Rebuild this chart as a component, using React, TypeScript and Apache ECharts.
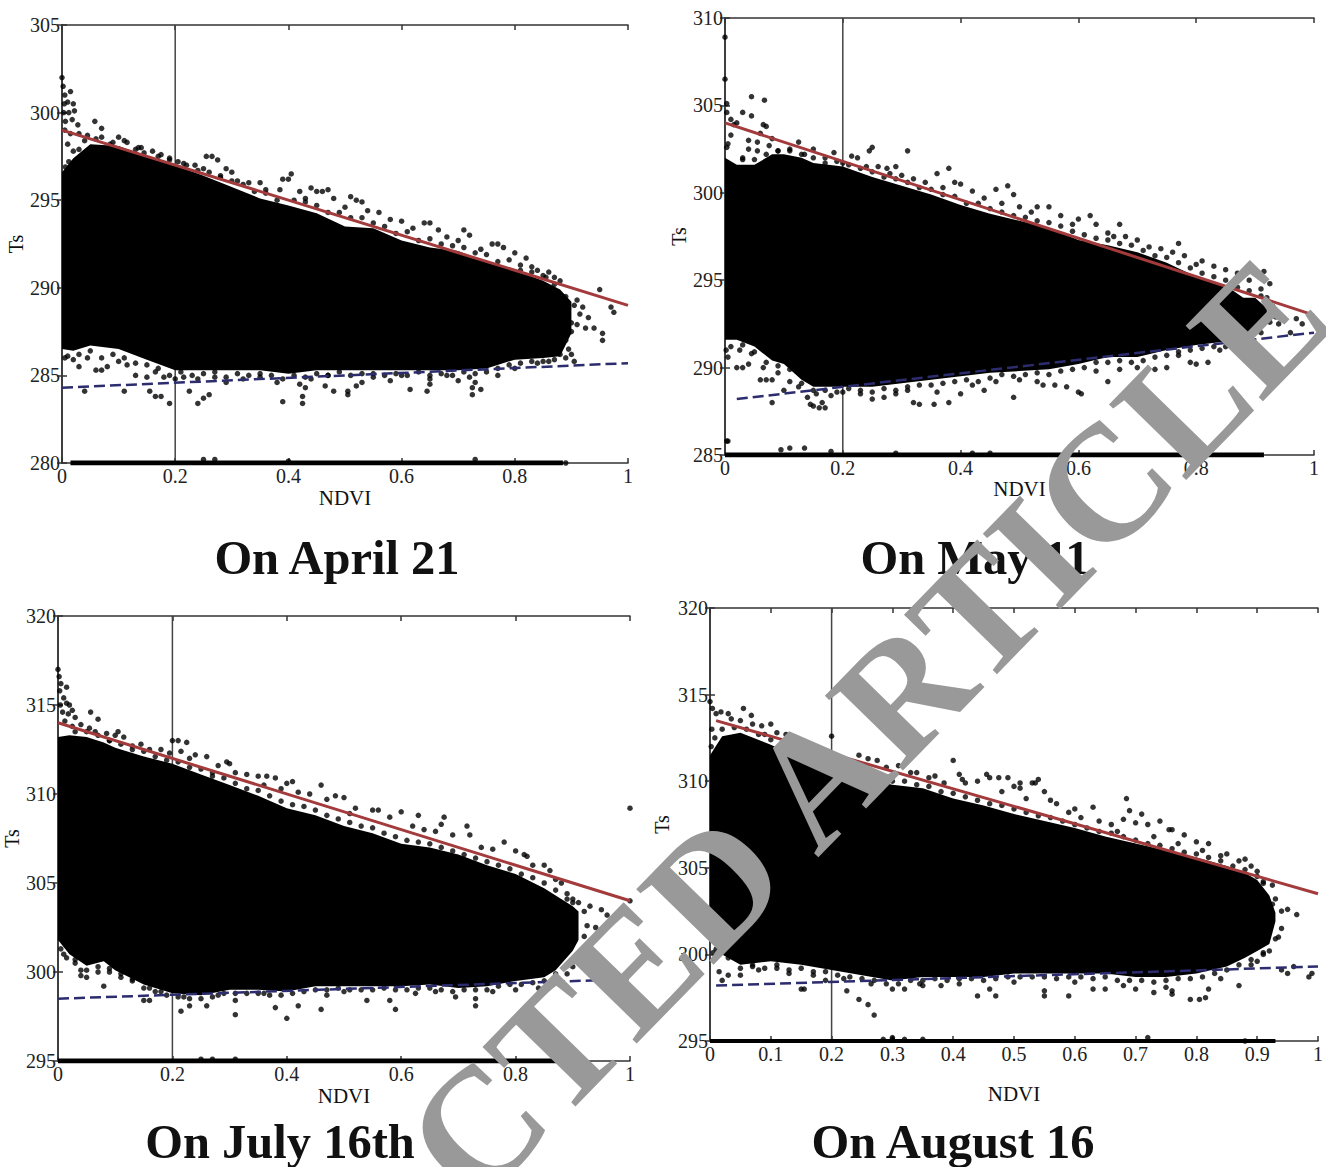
import React, { useEffect, useRef } from "react";
import * as echarts from "echarts";

const SERIF = "'Liberation Serif', serif";

// ---------- shared labels ----------
const titles = ["On April 21", "On May 11", "On July 16th", "On August 16"];
const xAxisName = "NDVI";
const yAxisName = "Ts";
const watermark = "RETRACTED ARTICLE";

// ---------- y ranges ----------
const yRanges = [[280, 305], [285, 310], [295, 320], [295, 320]];
const xSteps = [0.2, 0.2, 0.2, 0.1];
const thresholdNdvi = 0.2;

// ---------- dry and wet edges ----------
const dryEdges = [[[0, 299], [1, 289]], [[0, 304], [1, 293]], [[0, 314], [1, 304]], [[0.01, 313.5], [1, 303.5]]];
const wetEdges = [[[0, 284.3], [1, 285.7]], [[0.02, 288.2], [1, 292]], [[0, 298.5], [1, 299.6]], [[0.01, 298.2], [1, 299.3]]];

// ---------- zero-temperature rows ----------
const floorRows = [
  [[0.015, 280], [0.885, 280]],
  [[0, 285], [0.915, 285]],
  [[0, 295], [0.885, 295]],
  [[0, 295], [0.93, 295]],
];

// ---------- dense body: [ndvi, top, bottom] ----------
const bodyApril = [
  [0, 296.6, 286.5], [0.02, 297.4, 286.4], [0.05, 298.2, 286.7], [0.1, 298.1, 286.5], [0.15, 297.5, 285.9], [0.2, 297, 285.3],
  [0.25, 296.4, 285.3], [0.3, 295.75, 285.3], [0.35, 295.1, 285.3], [0.4, 294.7, 285.1], [0.45, 294.25, 285.3], [0.5, 293.5, 285.3],
  [0.55, 293.4, 285.3], [0.6, 292.7, 285.3], [0.65, 292.3, 285.3], [0.7, 292.1, 285.3], [0.75, 291.45, 285.4], [0.8, 291, 285.9],
  [0.85, 290.4, 286], [0.88, 289.9, 286.1], [0.9, 289.2, 287.4],
];
const bodyMay = [
  [0, 302, 291.6], [0.02, 301.6, 291.6], [0.05, 301.6, 291.2], [0.08, 302.2, 290.4], [0.1, 302.2, 290.2], [0.13, 302, 289.3],
  [0.15, 301.7, 288.9], [0.2, 301.5, 288.9], [0.25, 300.9, 288.9], [0.3, 300.4, 289.1], [0.35, 299.9, 289.3], [0.4, 299.3, 289.5],
  [0.45, 298.8, 289.7], [0.5, 298.4, 289.8], [0.55, 298, 289.9], [0.6, 297.3, 290.2], [0.65, 297, 290.6], [0.7, 296.6, 290.6],
  [0.75, 296, 291], [0.8, 295.2, 291.3], [0.85, 294.7, 291.5], [0.88, 294, 291.9], [0.9, 294, 292.3], [0.92, 293.4, 292.5],
];
const bodyJuly = [
  [0, 313.2, 301.8], [0.02, 313.3, 301], [0.05, 313.2, 300.35], [0.08, 312.9, 300.6], [0.1, 312.6, 300.1], [0.15, 312.1, 299.3],
  [0.2, 311.7, 298.8], [0.25, 311.1, 298.7], [0.3, 310.5, 299], [0.35, 309.9, 299], [0.4, 309.2, 298.9], [0.45, 308.8, 299.2],
  [0.5, 308.2, 299.2], [0.55, 307.8, 299.2], [0.6, 307.2, 299.2], [0.65, 307, 299.3], [0.7, 306.6, 299.1], [0.75, 306, 299.2],
  [0.8, 305.5, 299.5], [0.85, 304.7, 299.7], [0.87, 304.3, 300.1], [0.9, 303.7, 301.2], [0.91, 303.4, 301.8],
];
const bodyAugust = [
  [0, 311.5, 300.9], [0.02, 312.6, 300], [0.05, 312.8, 299.4], [0.1, 312.1, 299.6], [0.15, 311.3, 299.4], [0.2, 310.7, 299.1],
  [0.25, 310.2, 298.8], [0.3, 309.8, 298.5], [0.35, 309.6, 298.7], [0.4, 309, 298.7], [0.45, 308.6, 298.7], [0.5, 308.1, 298.9],
  [0.55, 307.7, 298.9], [0.6, 307.3, 298.9], [0.65, 306.8, 298.9], [0.7, 306.4, 298.7], [0.75, 306, 298.7], [0.8, 305.6, 298.9],
  [0.85, 305.1, 299.3], [0.88, 304.7, 299.8], [0.9, 304.3, 300.2], [0.92, 303.4, 300.6], [0.93, 302.4, 301.9],
];

// ---------- individually visible points ----------
const dotsApril = [
  [0, 302], [0.002, 301.5], [0.005, 301], [0.015, 301.2], [0.004, 300.5], [0.01, 300.6], [0.02, 300.5], [0.003, 300], [0.012, 300], [0.022, 300.1], [0.006, 299.5], [0.018, 299.6], [0.028, 299.3], [0.005, 299], [0.015, 298.8], [0.03, 298.8], [0.01, 298.2], [0.02, 297.8], [0.012, 297.2], [0.006, 296.9],
  [0.058, 299.5], [0.07, 299.1], [0.045, 298.7], [0.06, 298.5], [0.1, 298.6], [0.085, 298.2], [0.115, 298.3], [0.135, 298], [0.16, 297.8], [0.175, 297.6], [0.145, 297.7], [0.19, 297.4], [0.205, 297.2],
  [0.255, 297.5], [0.265, 297.5], [0.275, 297.3], [0.235, 297], [0.215, 297.1], [0.25, 296.8], [0.29, 296.8], [0.3, 296.6], [0.28, 296.3], [0.31, 296.1], [0.33, 296], [0.35, 296], [0.36, 295.6], [0.39, 296.2], [0.4, 296.2], [0.405, 296.5], [0.385, 295.6], [0.42, 295.5], [0.44, 295.7], [0.45, 295.5], [0.46, 295.5], [0.47, 295.6], [0.48, 295.1], [0.43, 295.1], [0.51, 295.2], [0.52, 295], [0.53, 294.9], [0.5, 294.6], [0.54, 294.4], [0.56, 294.3], [0.58, 293.9], [0.6, 293.8], [0.62, 293.4], [0.64, 293.7], [0.65, 293.7], [0.665, 293.3], [0.68, 292.9], [0.71, 293.3], [0.72, 293], [0.7, 292.7], [0.74, 292.2], [0.76, 292.5], [0.77, 292.5], [0.78, 292.3], [0.8, 292], [0.82, 291.7], [0.81, 291.3], [0.83, 291.2], [0.84, 291], [0.86, 290.9], [0.87, 290.6], [0.855, 290.6],
  [0.89, 289.5], [0.895, 288.8], [0.9, 288], [0.905, 289], [0.91, 289.3], [0.915, 288.5], [0.92, 288.9], [0.9, 287.5], [0.91, 287.9], [0.93, 288.3], [0.925, 287.7], [0.94, 287.7], [0.89, 287], [0.895, 286.5], [0.9, 286.2], [0.89, 286], [0.905, 285.8], [0.95, 289.9], [0.97, 288.9], [0.975, 288.6], [0.955, 287.4], [0.955, 287],
  [0.005, 286], [0.02, 285.9], [0.03, 285.5], [0.045, 286], [0.06, 285.3], [0.07, 285.3], [0.08, 285.5], [0.1, 285.8], [0.115, 285.6], [0.13, 285], [0.15, 284.9], [0.165, 285.2], [0.18, 284.9], [0.2, 284.8], [0.215, 284.9], [0.24, 284.8], [0.27, 284.9], [0.29, 284.6], [0.32, 284.8], [0.35, 284.9], [0.38, 284.6], [0.44, 284.8], [0.47, 285], [0.55, 284.9], [0.6, 285], [0.65, 284.8], [0.68, 285], [0.72, 284.9], [0.77, 285], [0.8, 285.4], [0.84, 285.7], [0.86, 285.8],
  [0.04, 284.1], [0.11, 284.1], [0.155, 284.1], [0.165, 283.8], [0.175, 283.8], [0.19, 283.4], [0.225, 284.1], [0.24, 283.4], [0.25, 283.7], [0.26, 283.9], [0.39, 283.5], [0.42, 284.5], [0.425, 283.8], [0.425, 283.4], [0.43, 284.3], [0.465, 284.4], [0.48, 284.1], [0.505, 284.1], [0.505, 283.9], [0.52, 284.4], [0.53, 284.6], [0.58, 284.7], [0.615, 284.2], [0.645, 284.1], [0.65, 284.5], [0.7, 284.7], [0.725, 283.9], [0.725, 284.3], [0.73, 284.6], [0.74, 284.2],
  [0.25, 280.2], [0.27, 280.2], [0.4, 280.1], [0.73, 280.2], [0.89, 280],
];
const fringeApril = [
  [0.03, 297.9], [0.04, 298.4], [0.07, 298.6], [0.09, 298.3], [0.11, 298.4], [0.13, 297.9], [0.14, 298], [0.17, 297.5], [0.19, 297.3], [0.22, 297], [0.24, 296.7], [0.26, 296.6], [0.28, 296.4], [0.3, 296.1], [0.32, 295.9], [0.34, 295.5], [0.36, 295.4], [0.38, 295], [0.41, 295], [0.43, 294.9], [0.45, 294.7], [0.47, 294.3], [0.49, 294.3], [0.51, 294], [0.53, 294], [0.55, 293.7], [0.57, 293.5], [0.59, 293.1], [0.61, 293.2], [0.63, 292.7], [0.65, 292.8], [0.67, 292.5], [0.69, 292.4], [0.71, 292.3], [0.73, 292], [0.75, 291.9], [0.77, 291.5], [0.79, 291.6], [0.81, 291], [0.83, 290.9], [0.85, 290.7], [0.87, 290.2], [0.88, 290.4],
  [0.01, 286.1], [0.03, 286.2], [0.05, 286.4], [0.07, 286], [0.09, 286.2], [0.11, 286], [0.13, 285.7], [0.15, 285.6], [0.17, 285.4], [0.19, 285], [0.21, 285.2], [0.23, 285], [0.25, 285.1], [0.27, 285.2], [0.29, 284.9], [0.31, 285.1], [0.33, 285], [0.35, 285.1], [0.37, 285], [0.39, 284.8], [0.41, 285], [0.43, 284.9], [0.45, 285.1], [0.47, 285], [0.49, 285.2], [0.51, 285], [0.53, 285.1], [0.55, 285.1], [0.57, 285], [0.59, 285.1], [0.61, 285], [0.63, 285.2], [0.65, 285], [0.67, 285.1], [0.69, 285], [0.71, 285.2], [0.73, 285.1], [0.75, 285.2], [0.77, 285.4], [0.79, 285.6], [0.81, 285.7], [0.83, 285.8], [0.85, 285.8], [0.87, 285.9], [0.88, 286.2],
];
const dotsMay = [
  [0, 308.9], [0, 306.5], [0.003, 305.1], [0.003, 304.6], [0.045, 305.5], [0.067, 305.3], [0.03, 304.6], [0.045, 304.4], [0.01, 304.2], [0.015, 303.9], [0.02, 304], [0.065, 303.9], [0.07, 303.8], [0.06, 303.4], [0.005, 302.8], [0.01, 303.3], [0.003, 302.6], [0.04, 303], [0.055, 302.9], [0.08, 303.1], [0.04, 302.5], [0.03, 302], [0.055, 302.4], [0.075, 302.7],
  [0.09, 302.4], [0.11, 302.5], [0.125, 302.9], [0.15, 302.5], [0.135, 302.2], [0.17, 302], [0.185, 302.3], [0.215, 302.1], [0.225, 302], [0.2, 301.7], [0.25, 302.6], [0.245, 302.4], [0.31, 302.4], [0.24, 301.5], [0.26, 301.5], [0.275, 301.4], [0.29, 301.5], [0.28, 301.1], [0.3, 301], [0.32, 300.8], [0.34, 300.6], [0.36, 301.1], [0.38, 301.4], [0.39, 300.6], [0.4, 300.5], [0.37, 300.3], [0.42, 300.1], [0.46, 300.2], [0.48, 300.4], [0.49, 299.9], [0.44, 299.7], [0.47, 299.4], [0.5, 299.2], [0.53, 299.2], [0.55, 299.2], [0.52, 298.9], [0.57, 298.7], [0.6, 298.5], [0.62, 298.7], [0.63, 298.2], [0.59, 298.2], [0.65, 297.7], [0.67, 298.2], [0.66, 297.5], [0.68, 297.5], [0.7, 297.3], [0.72, 296.9], [0.74, 296.8], [0.77, 297.1], [0.76, 296.6], [0.78, 296.4], [0.8, 295.9], [0.81, 296.1], [0.83, 295.8], [0.85, 295.6], [0.87, 295.4], [0.89, 295], [0.87, 295.1],
  [0.915, 295.5], [0.925, 294.8], [0.92, 294], [0.91, 294.5], [0.93, 293.5], [0.935, 292.9], [0.94, 292.5], [0.925, 292.6], [0.97, 292.8], [0.98, 292.5], [0.96, 292],
  [0.002, 291], [0.005, 290.6], [0.02, 290], [0.03, 290], [0.04, 290.2], [0.025, 291], [0.045, 290.8], [0.06, 289.3], [0.07, 289.3], [0.08, 289.3], [0.065, 290], [0.08, 288], [0.1, 288.7], [0.09, 289.7], [0.11, 289.2], [0.125, 288.9], [0.14, 288.3], [0.145, 287.9], [0.15, 287.8], [0.16, 287.7], [0.165, 288], [0.17, 287.7], [0.18, 288.4], [0.155, 288.5], [0.2, 288.6], [0.23, 288.5], [0.25, 288.2], [0.27, 288.3], [0.29, 288.5], [0.31, 288.7], [0.32, 288], [0.33, 287.9], [0.355, 287.9], [0.38, 288], [0.36, 288.6], [0.4, 288.5], [0.42, 289], [0.44, 288.7], [0.46, 289.2], [0.49, 288.3], [0.5, 289.3], [0.53, 289.2], [0.54, 289], [0.56, 289], [0.58, 288.9], [0.6, 288.6], [0.605, 288.5], [0.63, 289.8], [0.65, 289.2], [0.67, 289.9], [0.7, 290], [0.73, 289.9], [0.75, 290], [0.77, 290.7], [0.79, 290.3], [0.82, 290.3], [0.8, 290.2], [0.84, 291], [0.87, 291.2],
  [0.003, 285.8], [0.005, 285.8], [0.095, 285.3], [0.11, 285.4], [0.135, 285.4], [0.18, 285.2], [0.29, 285.1], [0.42, 285.1], [0.45, 285.1],
];
const fringeMay = [
  [0.03, 301.9], [0.05, 301.9], [0.07, 302.2], [0.09, 302.4], [0.11, 302.4], [0.13, 302.2], [0.15, 302], [0.17, 301.7], [0.19, 301.8], [0.21, 301.6], [0.23, 301.4], [0.25, 301.2], [0.27, 300.9], [0.29, 300.8], [0.31, 300.6], [0.33, 300.3], [0.35, 300.2], [0.37, 299.9], [0.39, 299.8], [0.41, 299.4], [0.43, 299.4], [0.45, 299.1], [0.47, 298.9], [0.49, 298.7], [0.51, 298.6], [0.53, 298.4], [0.55, 298.3], [0.57, 298.1], [0.59, 297.8], [0.61, 297.6], [0.63, 297.4], [0.65, 297.3], [0.67, 297.1], [0.69, 297], [0.71, 296.7], [0.73, 296.4], [0.75, 296.3], [0.77, 296], [0.79, 295.7], [0.81, 295.4], [0.83, 295.2], [0.85, 295], [0.87, 294.6], [0.89, 294.4], [0.91, 294.1],
  [0.01, 291.2], [0.03, 291.3], [0.05, 290.9], [0.07, 290.3], [0.09, 290.1], [0.11, 289.9], [0.13, 289.1], [0.15, 288.7], [0.17, 288.7], [0.19, 288.6], [0.21, 288.8], [0.23, 288.7], [0.25, 288.6], [0.27, 288.8], [0.29, 288.7], [0.31, 288.9], [0.33, 289], [0.35, 289], [0.37, 289.1], [0.39, 289.2], [0.41, 289.3], [0.43, 289.2], [0.45, 289.4], [0.47, 289.6], [0.49, 289.5], [0.51, 289.6], [0.53, 289.7], [0.55, 289.6], [0.57, 289.8], [0.59, 289.9], [0.61, 290], [0.63, 290.3], [0.65, 290.3], [0.67, 290.4], [0.69, 290.3], [0.71, 290.4], [0.73, 290.6], [0.75, 290.7], [0.77, 290.9], [0.79, 291], [0.81, 291.1], [0.83, 291.2], [0.85, 291.2], [0.87, 291.5], [0.89, 291.8], [0.91, 292],
];
const dotsJuly = [
  [0, 317], [0.002, 316.6], [0.005, 316.2], [0.015, 316], [0.003, 315.8], [0.01, 315.4], [0.004, 315], [0.015, 315.1], [0.02, 315], [0.008, 314.6], [0.018, 314.5], [0.025, 314.7], [0.03, 314.3], [0.012, 314.1], [0.025, 313.8],
  [0.057, 314.6], [0.07, 314.2], [0.04, 313.9], [0.055, 313.7], [0.065, 313.5], [0.085, 313.4], [0.1, 313.3], [0.105, 313.5], [0.115, 313.2], [0.09, 313], [0.13, 312.7], [0.145, 312.8], [0.16, 312.5], [0.18, 312.5], [0.2, 313], [0.21, 313], [0.225, 312.9], [0.215, 312.4], [0.195, 312.3], [0.24, 312.2], [0.26, 312.1], [0.23, 312], [0.28, 311.6], [0.295, 311.8], [0.3, 311.7], [0.27, 311.2], [0.31, 311.2], [0.33, 311.1], [0.35, 311], [0.365, 311], [0.38, 310.9], [0.36, 310.5], [0.39, 310.3], [0.4, 310.6], [0.41, 310.7], [0.42, 310.1], [0.44, 310], [0.46, 310.5], [0.47, 309.7], [0.485, 309.9], [0.5, 309.8], [0.52, 309.2], [0.51, 308.9], [0.55, 309.1], [0.56, 309.1], [0.58, 308.7], [0.6, 309], [0.62, 308.2], [0.63, 308.8], [0.64, 308], [0.675, 308.7], [0.67, 308.3], [0.66, 307.9], [0.69, 307.7], [0.715, 308.2], [0.72, 307.7], [0.74, 307], [0.76, 306.9], [0.78, 307.3], [0.8, 306.8], [0.815, 306.6], [0.82, 306.5], [0.83, 306], [0.85, 306], [0.86, 305.7], [0.87, 305.2], [0.88, 305], [0.89, 304.4], [0.9, 304.1],
  [0.91, 303.9], [0.92, 303.4], [0.93, 303.7], [0.95, 303.5], [0.96, 303.2], [0.925, 302.6], [0.94, 302.5], [0.92, 302], [0.915, 301], [0.905, 300.6], [0.9, 300.3], [0.92, 300.8], [0.89, 299.9], [0.87, 299.6], [1, 309.2], [1, 304],
  [0.005, 301.3], [0.015, 300.8], [0.03, 300.5], [0.04, 300.1], [0.04, 299.8], [0.05, 299.7], [0.08, 299.2], [0.07, 300], [0.09, 300], [0.11, 299.7], [0.13, 299.5], [0.15, 298.4], [0.16, 298.4], [0.16, 299.1], [0.18, 298.9], [0.22, 298.6], [0.215, 297.8], [0.23, 298.1], [0.26, 298.1], [0.28, 298.7], [0.31, 297.6], [0.31, 298.4], [0.36, 298.8], [0.38, 298], [0.4, 297.4], [0.42, 298.1], [0.46, 297.9], [0.47, 298.7], [0.5, 298.9], [0.54, 298.4], [0.58, 298.4], [0.59, 297.9], [0.625, 298.8], [0.66, 298.9], [0.695, 298.6], [0.73, 298.1], [0.73, 298.5], [0.76, 298.9], [0.8, 299], [0.84, 299.1],
  [0.25, 295.1], [0.27, 295.1], [0.31, 295.1],
];
const fringeJuly = [
  [0.03, 313.5], [0.05, 313.5], [0.07, 313.3], [0.09, 313], [0.11, 312.8], [0.13, 312.5], [0.15, 312.4], [0.17, 312.1], [0.19, 311.9], [0.21, 311.8], [0.23, 311.5], [0.25, 311.4], [0.27, 311], [0.29, 310.9], [0.31, 310.6], [0.33, 310.3], [0.35, 310.2], [0.37, 309.9], [0.39, 309.6], [0.41, 309.4], [0.43, 309.3], [0.45, 309.1], [0.47, 308.8], [0.49, 308.6], [0.51, 308.4], [0.53, 308.2], [0.55, 308.1], [0.57, 307.8], [0.59, 307.6], [0.61, 307.4], [0.63, 307.3], [0.65, 307.2], [0.67, 307], [0.69, 306.8], [0.71, 306.6], [0.73, 306.4], [0.75, 306.2], [0.77, 306], [0.79, 305.8], [0.81, 305.5], [0.83, 305.3], [0.85, 305], [0.87, 304.6], [0.89, 304.1], [0.9, 303.9],
  [0.01, 301], [0.03, 300.7], [0.05, 300.1], [0.07, 300.3], [0.09, 300.2], [0.11, 299.9], [0.13, 299.6], [0.15, 299.1], [0.17, 298.9], [0.19, 298.7], [0.21, 298.6], [0.23, 298.5], [0.25, 298.5], [0.27, 298.6], [0.29, 298.8], [0.31, 298.8], [0.33, 298.8], [0.35, 298.8], [0.37, 298.7], [0.39, 298.7], [0.41, 298.8], [0.43, 298.9], [0.45, 299], [0.47, 299], [0.49, 299.1], [0.51, 299], [0.53, 299], [0.55, 299], [0.57, 299.1], [0.59, 299], [0.61, 299], [0.63, 299.1], [0.65, 299.1], [0.67, 299], [0.69, 298.9], [0.71, 299], [0.73, 299], [0.75, 299], [0.77, 299.2], [0.79, 299.3], [0.81, 299.3], [0.83, 299.4], [0.85, 299.5], [0.87, 299.9], [0.89, 300.4],
];
const dotsAugust = [
  [0, 314.6], [0.004, 314.2], [0.01, 313.9], [0.018, 314], [0.03, 313.9], [0.035, 313.6], [0.055, 314.2], [0.068, 313.8], [0.05, 313.5], [0.07, 313.3], [0.085, 313.2], [0.1, 313.3], [0.11, 312.8], [0.09, 312.7], [0.125, 312.7], [0.003, 313], [0.008, 312.5], [0.002, 312], [0.14, 312.2], [0.15, 311.9], [0.17, 311.6], [0.2, 312.6], [0.19, 311.2], [0.21, 311.1],
  [0.23, 311], [0.245, 311.5], [0.26, 311.3], [0.275, 311.2], [0.25, 310.8], [0.29, 310.8], [0.31, 310.9], [0.33, 310.5], [0.34, 310.5], [0.36, 310.2], [0.37, 310.3], [0.385, 309.9], [0.4, 311.2], [0.41, 310.4], [0.415, 310.1], [0.42, 309.9], [0.44, 310], [0.455, 310.4], [0.46, 310.2], [0.475, 310.2], [0.49, 310.2], [0.48, 309.4], [0.5, 309.7], [0.51, 309.6], [0.51, 309.9], [0.53, 309.9], [0.54, 310.1], [0.535, 309.9], [0.55, 309.4], [0.52, 309], [0.56, 308.9], [0.57, 308.7], [0.59, 308.2], [0.6, 308.4], [0.63, 308.5], [0.61, 307.9], [0.64, 307.7], [0.66, 307.5], [0.68, 307.8], [0.685, 309], [0.69, 308.3], [0.67, 307.1], [0.7, 307.6], [0.71, 308.1], [0.72, 307.5], [0.74, 307.7], [0.76, 307.2], [0.78, 306.9], [0.755, 307.2], [0.73, 306.8], [0.77, 306.4], [0.8, 306.5], [0.82, 306.4], [0.81, 306], [0.84, 305.7], [0.85, 305.8], [0.87, 305.4], [0.88, 305.5], [0.89, 305.1], [0.9, 304.8], [0.91, 304.1],
  [0.925, 304], [0.93, 303.2], [0.94, 302.5], [0.925, 302.9], [0.95, 302.6], [0.965, 302.3], [0.94, 301.5], [0.935, 301], [0.93, 300.9], [0.92, 300.2], [0.91, 300], [0.9, 299.6], [0.89, 299.4],
  [0.005, 300.1], [0.015, 299], [0.02, 298.5], [0.03, 298.8], [0.05, 298.8], [0.07, 299.3], [0.08, 299.1], [0.11, 299.2], [0.13, 298.9], [0.15, 298], [0.155, 298], [0.17, 298.8], [0.19, 298.5], [0.22, 298.6], [0.225, 297.9], [0.245, 297.4], [0.26, 297.1], [0.27, 296.5], [0.265, 298.3], [0.3, 298], [0.32, 298], [0.345, 298.3], [0.35, 298.2], [0.38, 298.2], [0.41, 298.3], [0.44, 297.6], [0.46, 298], [0.47, 297.6], [0.5, 298.4], [0.55, 297.6], [0.55, 297.9], [0.59, 297.6], [0.6, 298.4], [0.63, 298], [0.65, 298], [0.68, 298.2], [0.7, 298], [0.73, 297.8], [0.75, 298.1], [0.76, 297.9], [0.76, 297.7], [0.79, 297.4], [0.805, 297.4], [0.815, 297.5], [0.82, 298], [0.84, 298.6], [0.87, 298.2], [0.96, 299.3], [0.95, 298.9], [0.94, 299.1], [0.99, 298.9], [0.985, 298.7],
  [0.285, 295.1], [0.3, 295.2], [0.3, 295.1], [0.32, 295.1], [0.35, 295.1], [0.72, 295.2], [0.88, 295],
];
const fringeAugust = [
  [0.02, 313], [0.04, 313.1], [0.06, 313], [0.08, 312.7], [0.1, 312.4], [0.12, 312.1], [0.14, 311.8], [0.16, 311.5], [0.18, 311.2], [0.2, 311], [0.22, 310.7], [0.24, 310.6], [0.26, 310.4], [0.28, 310.3], [0.3, 310], [0.32, 310], [0.34, 309.8], [0.36, 309.7], [0.38, 309.4], [0.4, 309.3], [0.42, 309.1], [0.44, 308.9], [0.46, 308.7], [0.48, 308.6], [0.5, 308.4], [0.52, 308.2], [0.54, 308], [0.56, 307.9], [0.58, 307.7], [0.6, 307.5], [0.62, 307.3], [0.64, 307.1], [0.66, 307], [0.68, 306.8], [0.7, 306.6], [0.72, 306.4], [0.74, 306.3], [0.76, 306.1], [0.78, 305.9], [0.8, 305.8], [0.82, 305.6], [0.84, 305.4], [0.86, 305.1], [0.88, 304.9], [0.9, 304.5], [0.91, 304.2],
  [0.01, 300.3], [0.03, 299.8], [0.05, 299.2], [0.07, 299.4], [0.09, 299.2], [0.11, 299.4], [0.13, 299.1], [0.15, 299.2], [0.17, 299], [0.19, 299], [0.21, 298.8], [0.23, 298.7], [0.25, 298.6], [0.27, 298.5], [0.29, 298.3], [0.31, 298.3], [0.33, 298.5], [0.35, 298.5], [0.37, 298.6], [0.39, 298.5], [0.41, 298.6], [0.43, 298.6], [0.45, 298.5], [0.47, 298.6], [0.49, 298.7], [0.51, 298.7], [0.53, 298.7], [0.55, 298.7], [0.57, 298.6], [0.59, 298.7], [0.61, 298.7], [0.63, 298.6], [0.65, 298.7], [0.67, 298.5], [0.69, 298.5], [0.71, 298.5], [0.73, 298.4], [0.75, 298.5], [0.77, 298.6], [0.79, 298.6], [0.81, 298.7], [0.83, 298.9], [0.85, 299.1], [0.87, 299.4], [0.89, 299.7], [0.91, 300.1],
];
const bodies = [bodyApril, bodyMay, bodyJuly, bodyAugust];
const dots = [
  [...dotsApril, ...fringeApril],
  [...dotsMay, ...fringeMay],
  [...dotsJuly, ...fringeJuly],
  [...dotsAugust, ...fringeAugust],
];

// ---------- layout (pixels) ----------
const grids = [
  { left: 62, top: 25, width: 566, height: 438 },
  { left: 725, top: 18, width: 589, height: 437 },
  { left: 58, top: 616, width: 572, height: 445 },
  { left: 710, top: 608, width: 608, height: 433 },
];
const nameGapsX = [24, 23, 24, 42];
const nameGapsY = [28, 33, 33, 38];
const titleX = [337, 975, 280, 953];
const titleTop = [533, 533, 1117, 1117];
const floorWidths = [5, 5, 5, 4];

const labelStyle = { fontFamily: SERIF, fontSize: 20, color: "#222" };
const frame = { show: true, lineStyle: { color: "#333", width: 1.5 } };

export default function App() {
  const ref = useRef<HTMLDivElement>(null);
  useEffect(() => {
    document.body.style.margin = "0";
    document.body.style.overflow = "hidden";
    const chart = echarts.init(ref.current!, undefined, { renderer: "svg" });
    const xAxis: any[] = [];
    const yAxis: any[] = [];
    const series: any[] = [];
    grids.forEach((_, i) => {
      const [min, max] = yRanges[i];
      const tick = { show: true, inside: true, length: 5, lineStyle: { color: "#333", width: 1.5 } };
      const xBase = { type: "value", gridIndex: i, min: 0, max: 1, interval: xSteps[i], splitLine: { show: false }, axisLine: frame, axisTick: tick };
      const yBase = { type: "value", gridIndex: i, min, max, interval: 5, splitLine: { show: false }, axisLine: frame, axisTick: tick };
      xAxis.push({
        ...xBase, position: "bottom", name: xAxisName, nameLocation: "middle", nameGap: nameGapsX[i],
        nameTextStyle: { fontFamily: SERIF, fontSize: 21, color: "#111" },
        axisLabel: { ...labelStyle, margin: 3, showMaxLabel: true, formatter: (v: number) => String(+v.toFixed(1)) },
      });
      xAxis.push({ ...xBase, position: "top", axisLabel: { show: false } });
      yAxis.push({
        ...yBase, position: "left", name: yAxisName, nameLocation: "middle", nameGap: nameGapsY[i], nameRotate: 90,
        nameTextStyle: { fontFamily: SERIF, fontSize: 20, color: "#111" },
        axisLabel: { ...labelStyle, margin: 2 },
      });
      yAxis.push({ ...yBase, position: "right", axisLabel: { show: false } });
      const xAxisIndex = i * 2;
      const yAxisIndex = i * 2;
      const common = { xAxisIndex, yAxisIndex, silent: true };
      const line = (data: number[][], color: string, width: number, extra: any = {}) => ({
        ...common, type: "line", data, showSymbol: false, symbol: "none", lineStyle: { color, width, ...extra },
      });
      series.push({ ...line([[thresholdNdvi, min], [thresholdNdvi, max]], "#444", 1.5), z: 1 });
      const body = bodies[i];
      series.push({
        ...common,
        type: "custom",
        z: 2,
        data: body,
        encode: { x: 0, y: [1, 2] },
        renderItem: (params: any, api: any) => {
          if (params.dataIndex !== 0) return null;
          const top = body.map((r) => api.coord([r[0], r[1]]));
          const bottom = body.map((r) => api.coord([r[0], r[2]])).reverse();
          return { type: "polygon", shape: { points: [...top, ...bottom] }, style: { fill: "#000" } };
        },
      });
      series.push({ ...common, type: "scatter", z: 3, data: dots[i], symbol: "circle", symbolSize: 5.5, itemStyle: { color: "#000" } });
      series.push({ ...line(floorRows[i], "#000", floorWidths[i]), z: 3 });
      series.push({ ...line(dryEdges[i], "#a33a3c", 3), z: 4 });
      series.push({ ...line(wetEdges[i], "#2c2c6e", 2.5, { type: [11, 5] }), z: 4 });
    });
    chart.setOption({
      animation: false,
      backgroundColor: "#fff",
      grid: grids.map((g) => ({ ...g, containLabel: false, outerBoundsMode: "none" })),
      xAxis,
      yAxis,
      series,
      title: titles.map((text, i) => ({
        text,
        left: titleX[i],
        top: titleTop[i],
        textAlign: "center",
        padding: 0,
        textStyle: { fontFamily: SERIF, fontWeight: "bold", fontSize: 48.5, color: "#111" },
      })),
      graphic: [
        {
          type: "text",
          x: 665,
          y: 935,
          rotation: (45.7 * Math.PI) / 180,
          z: 100,
          silent: true,
          style: { text: watermark, font: `bold 165px ${SERIF}`, fill: "#999999", textAlign: "center", textVerticalAlign: "middle" },
        },
      ],
    });
    return () => chart.dispose();
  }, []);
  return <div ref={ref} style={{ width: 1326, height: 1167 }} />;
}
